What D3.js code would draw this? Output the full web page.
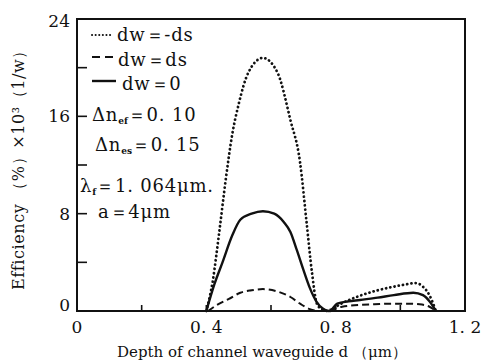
<!DOCTYPE html>
<html>
<head>
<meta charset="utf-8">
<script src="https://cdn.jsdelivr.net/npm/d3@7"></script>
<style>
body { margin:0; background:#fff; }
text { font-family: "DejaVu Serif", "Liberation Serif", serif; fill:#111; }
</style>
</head>
<body>
<svg id="chart" width="481" height="363"></svg>
<script>

// dw = -ds (dotted)
var dotD = [0.40,0.42,0.44,0.46,0.48,0.50,0.53,0.575,0.62,0.66,0.69,0.71,0.727,0.742,0.76,0.78,0.81,0.85,0.88,0.93,0.98,1.02,1.046,1.07,1.09,1.11]
var dotE = [0,2.5,6.5,10.8,14.5,17,19.6,20.8,19.6,15.7,12.2,7.3,3.1,0.6,0.1,0,0.5,1.0,1.3,1.7,2.0,2.2,2.3,2.0,1.3,0]

// dw = ds (dashed)
var dashD = [0.405,0.433,0.47,0.505,0.54,0.575,0.62,0.66,0.69,0.72,0.75,0.78,0.82,0.87,0.92,0.97,1.02,1.06,1.09,1.11]
var dashE = [0,0.5,1.0,1.5,1.7,1.8,1.6,1.15,0.6,0.15,0,0.1,0.35,0.5,0.55,0.6,0.6,0.55,0.35,0]

// dw = 0 (solid)
var solD = [0.40,0.425,0.45,0.48,0.505,0.54,0.575,0.61,0.64,0.66,0.68,0.70,0.72,0.74,0.76,0.78,0.805,0.84,0.875,0.93,0.98,1.04,1.07,1.09,1.11]
var solE = [0,2.2,4,6.2,7.5,8.0,8.2,8.0,7.3,6.5,5.0,3.4,1.9,0.8,0.2,0,0.6,0.8,0.9,1.1,1.3,1.5,1.3,0.8,0]

var yMajor = [0,8,16,24]
var yMinor = [4,12,20]
var xLabels = [0,0.4,0.8,1.2]
var xTicks = [0.2,0.4,0.6,0.8,1.0]

var svg = d3.select("#chart")

var x = d3.scaleLinear().domain([0,1.2]).range([77,465])
var y = d3.scaleLinear().domain([0,24]).range([311,19])

// frame
svg.append("rect")
    .attr("x",x(0)).attr("y",y(24))
    .attr("width",x(1.2)-x(0)).attr("height",y(0)-y(24))
    .attr("fill","none").attr("stroke","#111").attr("stroke-width",2)

// y ticks (inward)
svg.selectAll("line.yt").data(yMajor.concat(yMinor)).enter().append("line")
    .attr("class","yt")
    .attr("x1",x(0)).attr("x2",x(0)+10)
    .attr("y1",function(d){return y(d)}).attr("y2",function(d){return y(d)})
    .attr("stroke","#111").attr("stroke-width",1.6)

svg.selectAll("text.yl").data(yMajor).enter().append("text")
    .attr("class","yl")
    .attr("x",x(0)-7)
    .attr("y",function(d){return y(d)+ (d==24 ? 8 : (d==0 ? 0 : 6))})
    .attr("text-anchor","end")
    .style("font-size","17px")
    .text(function(d){return d})

// x ticks (inward)
svg.selectAll("line.xt").data(xTicks).enter().append("line")
    .attr("class","xt")
    .attr("x1",function(d){return x(d)}).attr("x2",function(d){return x(d)})
    .attr("y1",y(0)).attr("y2",y(0)-6)
    .attr("stroke","#111").attr("stroke-width",1.6)

svg.selectAll("text.xl").data(xLabels).enter().append("text")
    .attr("class","xl")
    .attr("x",function(d){return x(d)})
    .attr("y",333)
    .attr("text-anchor","middle")
    .style("font-size","17px")
    .text(function(d){return d==0 ? "0" : d3.format(".1f")(d).replace(".",". ")})

// axis titles
svg.append("text")
    .attr("x",262).attr("y",357)
    .attr("text-anchor","middle")
    .style("font-size","15px")
    .text("Depth of channel waveguide d （μm）")

svg.append("text")
    .attr("transform","translate(24,166) rotate(-90)")
    .attr("text-anchor","middle")
    .style("font-size","16px")
    .style("letter-spacing","0.6px")
    .text("Efficiency （%）×10³（1/w）")

// curves
var line = d3.line()
    .x(function(d){return x(d[0])})
    .y(function(d){return y(d[1])})
    .curve(d3.curveMonotoneX)

var series = [
    {d:dotD, e:dotE, dash:"0.1,4.2", w:2.8, cap:"round"},
    {d:dashD, e:dashE, dash:"7,4", w:2, cap:"butt"},
    {d:solD, e:solE, dash:null, w:2.4, cap:"butt"}
]

series.forEach(function(s) {
    svg.append("path")
        .datum(d3.zip(s.d, s.e))
        .attr("d",line)
        .attr("fill","none")
        .attr("stroke","#111")
        .attr("stroke-width",s.w)
        .attr("stroke-linecap",s.cap)
        .attr("stroke-dasharray",s.dash)
})

// legend
var leg = svg.append("g")
leg.append("line").attr("x1",92).attr("x2",112).attr("y1",35).attr("y2",35)
    .attr("stroke","#111").attr("stroke-width",2).attr("stroke-linecap","round").attr("stroke-dasharray","0.1,3.5")
leg.append("line").attr("x1",92).attr("x2",116).attr("y1",57).attr("y2",57)
    .attr("stroke","#111").attr("stroke-width",2).attr("stroke-dasharray","8,5")
leg.append("line").attr("x1",92).attr("x2",116).attr("y1",81).attr("y2",81)
    .attr("stroke","#111").attr("stroke-width",2.4)

function legText(tx, ty, parts) {
    var t = leg.append("text").attr("x",tx).attr("y",ty)
        .style("font-size","18px").style("letter-spacing","0.8px")
    parts.forEach(function(p) {
        var ts = t.append("tspan").text(p[0])
        if (p[1]=="sub") ts.style("font-size","9px").style("font-weight","bold").style("letter-spacing","0px").attr("dy",3)
        if (p[1]=="up") ts.attr("dy",-3)
    })
}

legText(117,41,[["dw＝-ds"]])
legText(118,66,[["dw＝ds"]])
legText(122,90,[["dw＝0"]])
legText(92,121,[["Δn"],["ef","sub"],["＝0. 10","up"]])
legText(95,151,[["Δn"],["es","sub"],["＝0. 15","up"]])
legText(80,192,[["λ"],["f","sub"],["＝1. 064μm.","up"]])
legText(98,218,[["a＝4μm"]])

</script>
</body>
</html>
